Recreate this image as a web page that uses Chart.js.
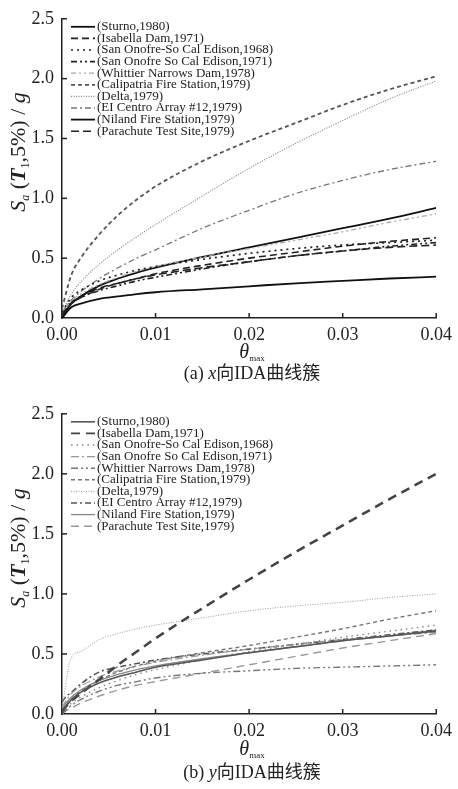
<!DOCTYPE html>
<html lang="zh-CN">
<head>
<meta charset="UTF-8">
<title>IDA曲线簇</title>
<script src="https://cdn.jsdelivr.net/npm/chart.js@4.4.1/dist/chart.umd.min.js"></script>
<style>
  html, body { margin: 0; padding: 0; background: #fff; }
  .panel { position: relative; width: 458px; }
  canvas { display: block; }
</style>
</head>
<body>
<div class="panel"><canvas id="chartX" width="458" height="395"></canvas></div>
<div class="panel"><canvas id="chartY" width="458" height="394"></canvas></div>
<script>
// Nombres de los registros sísmicos (leyenda)
const records = [
    '(Sturno,1980)',
    '(Isabella Dam,1971)',
    '(San Onofre-So Cal Edison,1968)',
    '(San Onofre So Cal Edison,1971)',
    '(Whittier Narrows Dam,1978)',
    '(Calipatria Fire Station,1979)',
    '(Delta,1979)',
    '(EI Centro Array #12,1979)',
    '(Niland Fire Station,1979)',
    '(Parachute Test Site,1979)'
];

// θmax
const thetaX = [0, 0.001, 0.002, 0.004, 0.006, 0.008, 0.01, 0.015, 0.02, 0.025, 0.03, 0.035, 0.04];
const thetaY = [0, 0.0005, 0.001, 0.002, 0.004, 0.006, 0.008, 0.01, 0.015, 0.02, 0.025, 0.03, 0.035, 0.04];

// Sa(T1,5%)/g — dirección x
const sturnoX     = [0.00, 0.09, 0.12, 0.16, 0.18, 0.20, 0.215, 0.24, 0.265, 0.29, 0.31, 0.33, 0.345];
const isabellaX   = [0.03, 0.12, 0.17, 0.24, 0.29, 0.33, 0.37, 0.44, 0.50, 0.55, 0.60, 0.64, 0.67];
const onofre68X   = [0.05, 0.17, 0.23, 0.31, 0.36, 0.40, 0.43, 0.49, 0.54, 0.58, 0.61, 0.63, 0.65];
const onofre71X   = [0.03, 0.12, 0.17, 0.23, 0.27, 0.31, 0.34, 0.41, 0.47, 0.52, 0.56, 0.60, 0.63];
const whittierX   = [0.04, 0.14, 0.20, 0.28, 0.34, 0.39, 0.43, 0.51, 0.58, 0.65, 0.72, 0.80, 0.87];
const calipatriaX = [0.08, 0.36, 0.50, 0.70, 0.86, 0.99, 1.10, 1.31, 1.48, 1.63, 1.78, 1.91, 2.02];
const deltaX      = [0.04, 0.20, 0.30, 0.45, 0.57, 0.68, 0.78, 1.02, 1.25, 1.46, 1.65, 1.83, 1.98];
const centroX     = [0.05, 0.15, 0.22, 0.33, 0.42, 0.50, 0.57, 0.75, 0.90, 1.04, 1.15, 1.24, 1.31];
const nilandX     = [0.00, 0.12, 0.18, 0.27, 0.33, 0.38, 0.42, 0.51, 0.59, 0.67, 0.75, 0.83, 0.92];
const parachuteX  = [0.03, 0.13, 0.18, 0.25, 0.29, 0.33, 0.36, 0.42, 0.47, 0.52, 0.56, 0.59, 0.61];

// Sa(T1,5%)/g — dirección y
const sturnoY     = [0.00, 0.07, 0.12, 0.18, 0.26, 0.31, 0.35, 0.39, 0.45, 0.51, 0.56, 0.61, 0.65, 0.69];
const isabellaY   = [0.02, 0.07, 0.11, 0.17, 0.29, 0.41, 0.52, 0.63, 0.88, 1.12, 1.35, 1.57, 1.79, 2.00];
const onofre68Y   = [0.02, 0.06, 0.09, 0.14, 0.22, 0.28, 0.33, 0.37, 0.45, 0.52, 0.58, 0.64, 0.69, 0.74];
const onofre71Y   = [0.05, 0.12, 0.17, 0.23, 0.31, 0.36, 0.40, 0.43, 0.49, 0.54, 0.58, 0.62, 0.65, 0.68];
const whittierY   = [0.00, 0.04, 0.07, 0.12, 0.19, 0.24, 0.27, 0.30, 0.34, 0.36, 0.38, 0.39, 0.40, 0.41];
const calipatriaY = [0.03, 0.08, 0.12, 0.19, 0.28, 0.35, 0.40, 0.44, 0.51, 0.57, 0.64, 0.71, 0.79, 0.86];
const deltaY      = [0.02, 0.30, 0.47, 0.52, 0.62, 0.67, 0.71, 0.74, 0.80, 0.86, 0.90, 0.93, 0.97, 1.00];
const centroY     = [0.10, 0.15, 0.18, 0.25, 0.35, 0.39, 0.42, 0.45, 0.50, 0.54, 0.58, 0.62, 0.66, 0.70];
const nilandY     = [0.05, 0.10, 0.14, 0.20, 0.28, 0.33, 0.37, 0.40, 0.46, 0.51, 0.56, 0.61, 0.65, 0.70];
const parachuteY  = [0.00, 0.03, 0.05, 0.09, 0.15, 0.20, 0.24, 0.27, 0.34, 0.41, 0.48, 0.55, 0.61, 0.67];

// Ticks de los ejes
const xTicks = [0, 0.01, 0.02, 0.03, 0.04];
const yTicks = [0, 0.5, 1.0, 1.5, 2.0, 2.5];

// Estilos de línea (escala de grises, como el original)
const stylesX = [
    { color: '#111', dash: [], width: 1.8 },
    { color: '#222', dash: [7, 4], width: 1.6 },
    { color: '#222', dash: [2, 4], width: 1.7 },
    { color: '#222', dash: [6, 3, 2, 3, 2, 3], width: 1.6 },
    { color: '#aaa', dash: [5, 3, 2, 3, 2, 3], width: 1.3 },
    { color: '#555', dash: [4, 3], width: 1.8 },
    { color: '#888', dash: [1, 1.5], width: 1.2 },
    { color: '#777', dash: [6, 3, 2, 3], width: 1.3 },
    { color: '#111', dash: [], width: 1.8 },
    { color: '#222', dash: [8, 4], width: 1.6 }
];
const stylesY = [
    { color: '#555', dash: [], width: 1.6 },
    { color: '#444', dash: [9, 6], width: 2.6 },
    { color: '#888', dash: [1.5, 4], width: 1.4 },
    { color: '#999', dash: [8, 3, 2, 3], width: 1.3 },
    { color: '#777', dash: [7, 3, 2, 3, 2, 3], width: 1.4 },
    { color: '#777', dash: [4, 3], width: 1.4 },
    { color: '#999', dash: [1, 1.5], width: 1.0 },
    { color: '#555', dash: [6, 3, 2, 3], width: 1.6 },
    { color: '#888', dash: [], width: 1.3 },
    { color: '#999', dash: [8, 5], width: 1.4 }
];

const SERIF = '"Liberation Serif", "Times New Roman", serif';
const CJK = '"Liberation Serif", "Noto Sans CJK SC", serif';

/**
 * Construye los datasets a partir de los arreglos de valores
 */
function buildDatasets(theta, series, styles) {
    return series.map((values, i) => ({
        label: records[i],
        data: values.map((v, k) => ({ x: theta[k], y: v })),
        borderColor: styles[i].color,
        borderDash: styles[i].dash,
        borderWidth: styles[i].width,
        pointRadius: 0,
        fill: false,
        cubicInterpolationMode: 'monotone'
    }));
}

/**
 * Dibuja una secuencia de fragmentos de texto con fuentes distintas
 */
function drawRuns(ctx, runs, x, y) {
    let cx = x;
    runs.forEach(r => {
        ctx.font = r.font;
        ctx.fillText(r.text, cx, y + (r.dy || 0));
        cx += ctx.measureText(r.text).width;
    });
}

function runsWidth(ctx, runs) {
    return runs.reduce((w, r) => {
        ctx.font = r.font;
        return w + ctx.measureText(r.text).width;
    }, 0);
}

/**
 * Plugin: ticks hacia dentro, leyenda, títulos de ejes y pie de figura
 */
const decorPlugin = {
    id: 'decor',
    afterDraw(chart, args, opts) {
        const ctx = chart.ctx;
        const area = chart.chartArea;
        const xs = chart.scales.x;
        const ys = chart.scales.y;
        ctx.save();

        // ticks interiores
        ctx.strokeStyle = '#222';
        ctx.lineWidth = 1.5;
        ctx.setLineDash([]);
        xTicks.slice(1).forEach(v => {
            const px = xs.getPixelForValue(v);
            ctx.beginPath();
            ctx.moveTo(px, area.bottom);
            ctx.lineTo(px, area.bottom - 5);
            ctx.stroke();
        });
        yTicks.slice(1).forEach(v => {
            const py = ys.getPixelForValue(v);
            ctx.beginPath();
            ctx.moveTo(area.left, py);
            ctx.lineTo(area.left + 5, py);
            ctx.stroke();
        });

        // leyenda
        const lx = area.left + 9;
        let ly = area.top + 8;
        ctx.textBaseline = 'middle';
        chart.data.datasets.forEach(ds => {
            ctx.strokeStyle = ds.borderColor;
            ctx.lineWidth = Math.min(ds.borderWidth, 1.8);
            ctx.setLineDash(ds.borderDash);
            ctx.beginPath();
            ctx.moveTo(lx, ly);
            ctx.lineTo(lx + 24, ly);
            ctx.stroke();
            ctx.setLineDash([]);
            ctx.fillStyle = '#222';
            ctx.font = '13px ' + SERIF;
            ctx.fillText(ds.label, lx + 26, ly);
            ly += 11.6;
        });

        // título eje y: Sa (T1,5%) / g
        ctx.fillStyle = '#222';
        ctx.textBaseline = 'alphabetic';
        const yRuns = [
            { text: 'S', font: 'italic 22px ' + SERIF },
            { text: 'a', font: 'italic 12px ' + SERIF, dy: 4 },
            { text: ' (', font: '22px ' + SERIF },
            { text: 'T', font: 'italic bold 22px ' + SERIF },
            { text: '1', font: '12px ' + SERIF, dy: 4 },
            { text: ',5%) / ', font: '22px ' + SERIF },
            { text: 'g', font: 'italic 22px ' + SERIF }
        ];
        const yw = runsWidth(ctx, yRuns);
        ctx.save();
        ctx.translate(25, opts.yTitleY);
        ctx.rotate(-Math.PI / 2);
        drawRuns(ctx, yRuns, -yw / 2, 0);
        ctx.restore();

        // título eje x: θmax
        const xRuns = [
            { text: 'θ', font: 'italic 20px ' + SERIF },
            { text: 'max', font: '9px ' + SERIF, dy: 3 }
        ];
        const xw = runsWidth(ctx, xRuns);
        drawRuns(ctx, xRuns, 252 - xw / 2, area.bottom + opts.xTitleDy);

        // pie de figura
        const capRuns = [
            { text: opts.tag + ' ', font: '18px ' + SERIF },
            { text: opts.dir, font: 'italic 18px ' + SERIF },
            { text: '向IDA曲线簇', font: '18px ' + CJK }
        ];
        const cw = runsWidth(ctx, capRuns);
        drawRuns(ctx, capRuns, 252 - cw / 2, area.bottom + opts.captionDy);

        ctx.restore();
    }
};

/**
 * Crea un gráfico IDA
 */
function createChart(canvasId, datasets, frame, decor) {
    const ctx = document.getElementById(canvasId).getContext('2d');
    const canvasHeight = document.getElementById(canvasId).height;

    return new Chart(ctx, {
        type: 'line',
        data: { datasets },
        options: {
            responsive: false,
            animation: false,
            devicePixelRatio: 1,
            layout: { padding: { left: 0, top: frame.top, right: 17, bottom: 0 } },
            plugins: {
                legend: { display: false },
                tooltip: { enabled: false },
                decor
            },
            scales: {
                x: {
                    type: 'linear',
                    min: 0,
                    max: 0.04,
                    afterBuildTicks: scale => { scale.ticks = xTicks.map(v => ({ value: v })); },
                    afterFit: scale => { scale.height = canvasHeight - frame.bottom; },
                    grid: { display: false, drawTicks: false },
                    border: { display: true, color: '#222', width: 1.5 },
                    ticks: {
                        padding: 6,
                        maxRotation: 0,
                        autoSkip: false,
                        color: '#222',
                        font: { family: SERIF, size: 18 },
                        callback: v => v.toFixed(2)
                    }
                },
                y: {
                    type: 'linear',
                    min: 0,
                    max: 2.5,
                    afterBuildTicks: scale => { scale.ticks = yTicks.map(v => ({ value: v })); },
                    afterFit: scale => { scale.width = 62; },
                    grid: { display: false, drawTicks: false },
                    border: { display: true, color: '#222', width: 1.5 },
                    ticks: {
                        padding: 8,
                        color: '#222',
                        font: { family: SERIF, size: 18 },
                        callback: v => v.toFixed(1)
                    }
                }
            }
        },
        plugins: [decorPlugin]
    });
}

const datasetsX = buildDatasets(thetaX,
    [sturnoX, isabellaX, onofre68X, onofre71X, whittierX, calipatriaX, deltaX, centroX, nilandX, parachuteX],
    stylesX);
const datasetsY = buildDatasets(thetaY,
    [sturnoY, isabellaY, onofre68Y, onofre71Y, whittierY, calipatriaY, deltaY, centroY, nilandY, parachuteY],
    stylesY);

createChart('chartX', datasetsX, { top: 16, bottom: 318 },
    { yTitleY: 152, xTitleDy: 40, captionDy: 61, tag: '(a)', dir: 'x' });
createChart('chartY', datasetsY, { top: 18, bottom: 319 },
    { yTitleY: 153, xTitleDy: 41, captionDy: 64, tag: '(b)', dir: 'y' });
</script>
</body>
</html>
